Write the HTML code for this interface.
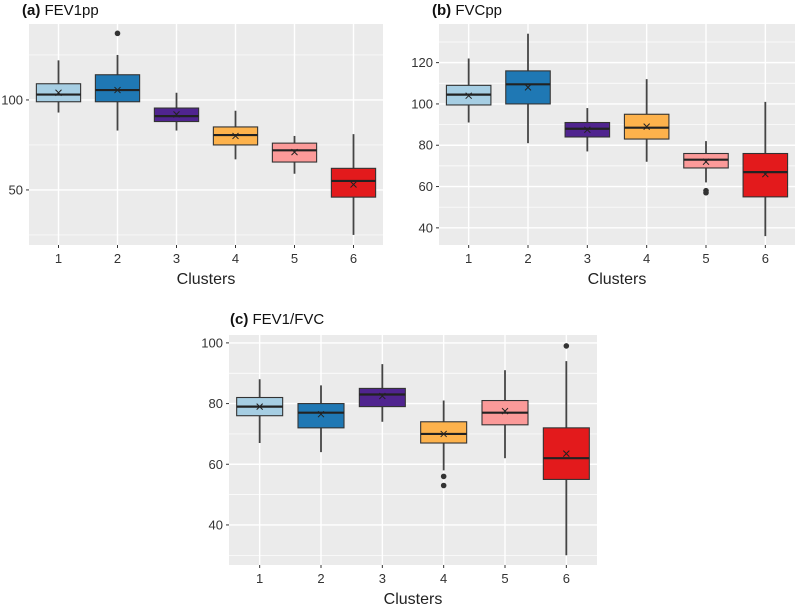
<!DOCTYPE html>
<html><head><meta charset="utf-8"><style>
html,body{margin:0;padding:0;background:#fff;}
svg{display:block;font-family:"Liberation Sans",Arial,sans-serif;}
</style></head><body>
<svg id="chart" width="797" height="607" viewBox="0 0 797 607" xmlns="http://www.w3.org/2000/svg"></svg>
<script>
const categories = ["1","2","3","4","5","6"];
const colors = ["#a6cee3","#1f78b4","#50248f","#fdb24c","#fb9a99","#e31a1c"];
// Panel a: FEV1pp
const aLow = [93,83,83,67,59,25];
const aQ1 = [99,99,88,75,65.5,46];
const aMed = [103,105.5,91,80.5,72,55];
const aQ3 = [109,114,95.5,85,76,62];
const aHigh = [122,125,104,94,80,81];
const aMean = [104,105.5,92,80,71,53];
const aOut = [[],[137],[],[],[],[]];
const aTicks = [50,100];
// Panel b: FVCpp
const bLow = [91,81,77,72,62,36];
const bQ1 = [99.5,100,84,83,69,55];
const bMed = [104.5,109.5,88,88.5,73,67];
const bQ3 = [109,116,91,95,76,76];
const bHigh = [122,134,98,112,82,101];
const bMean = [104,108,87.5,89,72,66];
const bOut = [[],[],[],[],[58,57],[]];
const bTicks = [40,60,80,100,120];
// Panel c: FEV1/FVC
const cLow = [67,64,74,58,62,30];
const cQ1 = [76,72,79,67,73,55];
const cMed = [79,77,83,70,77,62];
const cQ3 = [82,80,85,74,81,72];
const cHigh = [88,86,93,81,91,94];
const cMean = [79,76.5,82.5,70,77.5,63.5];
const cOut = [[],[],[],[56,53],[],[99]];
const cTicks = [40,60,80,100];

const NS="http://www.w3.org/2000/svg";
const svg=document.getElementById('chart');
function mk(tag,attrs,parent){const e=document.createElementNS(NS,tag);for(const k in attrs)e.setAttribute(k,attrs[k]);(parent||svg).appendChild(e);return e;}

function panel(p){
  const g=mk('g',{});
  
  
  const y=v=>p.y0+(p.vmax-v)/(p.vmax-p.vmin)*(p.y1-p.y0);
  const x=i=>p.x0+(i+0.5)*(p.x1-p.x0)/categories.length;
  const bg=mk('rect',{x:p.x0,y:p.y0,width:p.x1-p.x0,height:p.y1-p.y0,fill:'#ebebeb'},g);
  
  
  const step=p.ticks[1]-p.ticks[0];
  for(let v=p.ticks[0]-step/2;v<=p.vmax;v+=step){ if(v<p.vmin)continue;
    mk('line',{x1:p.x0,x2:p.x1,y1:y(v),y2:y(v),stroke:'#fff','stroke-width':0.7},g);}
  p.ticks.forEach(t=>{
    mk('line',{x1:p.x0,x2:p.x1,y1:y(t),y2:y(t),stroke:'#fff','stroke-width':1.4},g);
    mk('line',{x1:p.x0-3,x2:p.x0,y1:y(t),y2:y(t),stroke:'#333','stroke-width':1},g);
    const tx=mk('text',{x:p.x0-6,y:y(t)+4.5,'text-anchor':'end','font-size':13,fill:'#333'},g);
    tx.textContent=t;
    
    
  });
  const bw=0.75*(p.x1-p.x0)/categories.length;
  categories.forEach((c,i)=>{
    mk('line',{x1:x(i),x2:x(i),y1:p.y0,y2:p.y1,stroke:'#fff','stroke-width':1.4},g);
    mk('line',{x1:x(i),x2:x(i),y1:p.y1,y2:p.y1+3,stroke:'#333','stroke-width':1},g);
    const tx=mk('text',{x:x(i),y:p.y1+18,'text-anchor':'middle','font-size':13,fill:'#333'},g);
    tx.textContent=c;
    
    
  });
  categories.forEach((c,i)=>{
    const bx=mk('g',{},g);
    
    
    mk('line',{x1:x(i),x2:x(i),y1:y(p.high[i]),y2:y(p.low[i]),stroke:'#444','stroke-width':1.8},bx);
    mk('rect',{x:x(i)-bw/2,y:y(p.q3[i]),width:bw,height:y(p.q1[i])-y(p.q3[i]),fill:colors[i],stroke:'#333','stroke-width':1.1},bx);
    mk('line',{x1:x(i)-bw/2,x2:x(i)+bw/2,y1:y(p.med[i]),y2:y(p.med[i]),stroke:'#222','stroke-width':2.2},bx);
    const mx=x(i),my=y(p.mean[i]);
    mk('path',{d:`M${mx-3},${my-3}L${mx+3},${my+3}M${mx-3},${my+3}L${mx+3},${my-3}`,stroke:'#222','stroke-width':1},bx);
    p.out[i].forEach(o=>mk('circle',{cx:mx,cy:y(o),r:2.8,fill:'#333'},bx));
  });
  const xt=mk('text',{x:(p.x0+p.x1)/2,y:p.y1+39,'text-anchor':'middle','font-size':16,fill:'#222'},g);
  xt.textContent='Clusters';
  
  
  const tt=mk('text',{x:p.tx,y:p.ty,'font-size':15,fill:'#111'},g);
  tt.innerHTML=`<tspan font-weight="bold">${p.label}</tspan> ${p.title}`;
  
  
}
panel({name:'panel-a-fev1pp',x0:29,x1:383,y0:24,y1:245,vmin:19.4,vmax:142.2,ticks:aTicks,
  low:aLow,q1:aQ1,med:aMed,q3:aQ3,high:aHigh,mean:aMean,out:aOut,label:'(a)',title:'FEV1pp',tx:22,ty:15});
panel({name:'panel-b-fvcpp',x0:439,x1:795,y0:24,y1:245,vmin:31.7,vmax:138.7,ticks:bTicks,
  low:bLow,q1:bQ1,med:bMed,q3:bQ3,high:bHigh,mean:bMean,out:bOut,label:'(b)',title:'FVCpp',tx:432,ty:15});
panel({name:'panel-c-fev1-fvc',x0:229,x1:597,y0:335,y1:565,vmin:26.8,vmax:102.6,ticks:cTicks,
  low:cLow,q1:cQ1,med:cMed,q3:cQ3,high:cHigh,mean:cMean,out:cOut,label:'(c)',title:'FEV1/FVC',tx:230,ty:324});
</script>
</body></html>
